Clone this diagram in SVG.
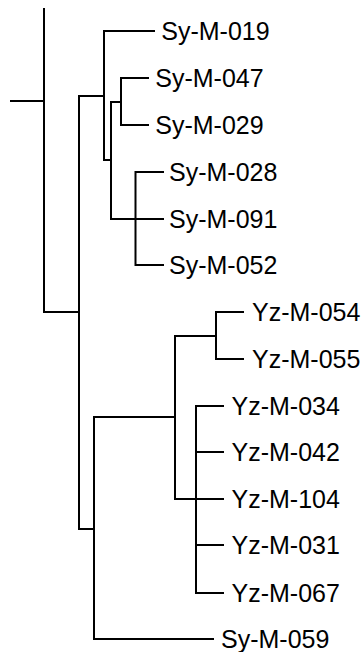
<svg xmlns="http://www.w3.org/2000/svg" width="363" height="652" viewBox="0 0 363 652">
<style>
.e{fill:none;stroke:#000;stroke-width:2;stroke-linecap:square}
.l{font-family:"Liberation Sans",Arial,sans-serif;font-size:25px;fill:#000}
</style>
<rect width="363" height="652" fill="#fff"/>
<g id="connectors" class="e">
<path d="M11,101H44M44,9V312H79"/>
<path d="M79,96V529H94M79,96H104"/>
<path d="M154,31H104V160H111"/>
<path d="M121,102H111V219H163"/>
<path d="M148,78H121V125H148"/>
<path d="M163,172H135.5V265H163"/>
<path d="M94,417V639H213M94,417H175M175,336V499"/>
<path d="M243,312H216V359H243M175,336H216"/>
<path d="M223,406H196V593H223M196,452H223M175,499H223M196,545H223"/>
</g>
<g id="Sy-M-019"><text class="l" x="161.3" y="39.5">Sy-M-019</text></g>
<g id="Sy-M-047"><text class="l" x="155.3" y="86.5">Sy-M-047</text></g>
<g id="Sy-M-029"><text class="l" x="155.3" y="133.5">Sy-M-029</text></g>
<g id="Sy-M-028"><text class="l" x="169" y="180.5">Sy-M-028</text></g>
<g id="Sy-M-091"><text class="l" x="169" y="227.5">Sy-M-091</text></g>
<g id="Sy-M-052"><text class="l" x="169" y="273.5">Sy-M-052</text></g>
<g id="Yz-M-054"><text class="l" x="252" y="320.5">Yz-M-054</text></g>
<g id="Yz-M-055"><text class="l" x="252" y="367.5">Yz-M-055</text></g>
<g id="Yz-M-034"><text class="l" x="231.5" y="414.5">Yz-M-034</text></g>
<g id="Yz-M-042"><text class="l" x="231.5" y="460.5">Yz-M-042</text></g>
<g id="Yz-M-104"><text class="l" x="231.5" y="507.5">Yz-M-104</text></g>
<g id="Yz-M-031"><text class="l" x="231.5" y="553.5">Yz-M-031</text></g>
<g id="Yz-M-067"><text class="l" x="231.5" y="601.5">Yz-M-067</text></g>
<g id="Sy-M-059"><text class="l" x="221" y="647.5">Sy-M-059</text></g>
</svg>
